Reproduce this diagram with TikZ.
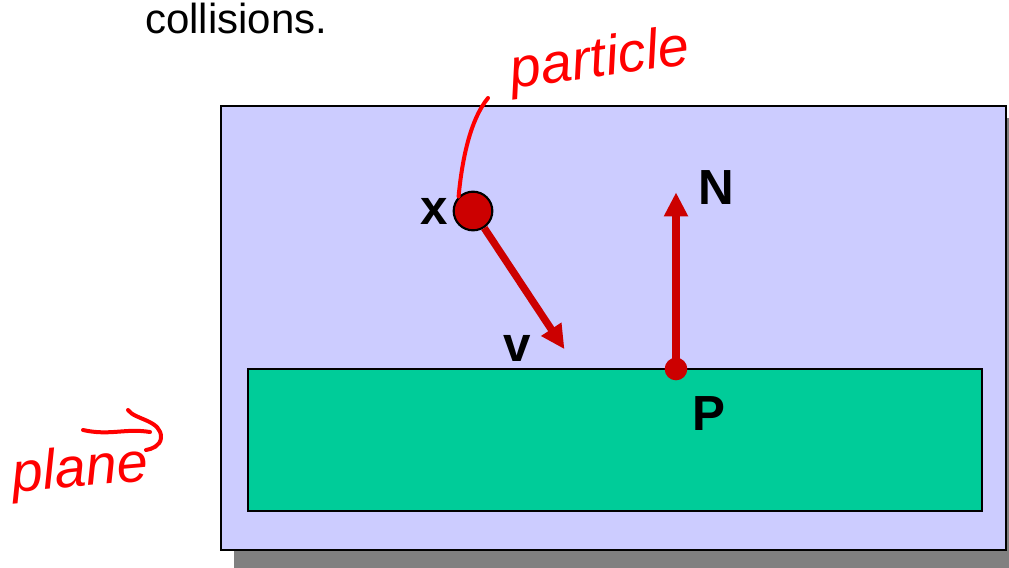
\documentclass[tikz,border=0pt]{standalone}
\usepackage{fontspec}
\setmainfont{Liberation Sans}
\usetikzlibrary{arrows.meta,positioning,calc}
\definecolor{lavender}{HTML}{CCCCFF}
\definecolor{planegreen}{HTML}{00CC99}
\definecolor{vecred}{HTML}{CC0000}
\colorlet{shadowgray}{black!50}
\colorlet{inkred}{red}

\tikzset{
  vec/.style={-{Triangle[length=18pt,width=17pt]},line width=5.5pt,vecred,shorten >=-2pt},
  lbl/.style={font=\fontsize{37}{40}\selectfont\bfseries,inner sep=0pt},
  ink/.style={inkred,line width=3pt,line cap=round,line join=round},
  inktext/.style={inkred,font=\fontsize{42}{46}\selectfont\itshape,inner sep=0pt}
}

\begin{document}
\begin{tikzpicture}[x=0.75pt,y=-0.75pt]
\useasboundingbox (0,0) rectangle (1009,567);
% box with shadow
\fill[shadowgray] (234,118) rectangle (1020,580);
\draw[line width=2.2pt,fill=lavender] (221,106) rectangle (1006,550);
\draw[line width=1.8pt,fill=planegreen] (248,369) rectangle (982,511);

\node[anchor=base west,font=\fontsize{31.5}{36}\selectfont,inner sep=0pt] (title) at (145,34) {collisions.};

% particle and contact point
\node[circle,draw=black,line width=1.6pt,fill=vecred,minimum size=29pt,inner sep=0pt] (particle) at (473,211) {};
\node[circle,fill=vecred,minimum size=17pt,inner sep=0pt] (pointP) at (676,369) {};
\coordinate (vtip) at (563,347);
\coordinate (ntip) at (676,195);
\draw[vec] (particle) -- (vtip);
\draw[vec] (pointP.center) -- (ntip);

\node[lbl,left=3pt of particle] (xlbl) {x};
\node[lbl] (vlbl) at (517,348) {v};
\node[lbl] (nlbl) at (716,188) {N};
\node[lbl] (plbl) at (709,414) {P};

% handwritten notes
\node[inktext,rotate=8] (partnote) at (600,62) {particle};
\coordinate (partend) at (488,98);
\draw[ink] (particle.north west) .. controls (462,160) and (470,120) .. (partend);
\node[inktext,rotate=5] (planenote) at (80,472) {plane};
\coordinate (arrstart) at (83,430);
\coordinate (arrend) at (150,432);
\draw[ink] (arrstart) .. controls (110,436) and (125,428) .. (arrend);
\draw[ink] (128,410) .. controls (135,420) and (162,420) .. (161,438) .. controls (160,446) and (152,449) .. (146,450);
\end{tikzpicture}
\end{document}
